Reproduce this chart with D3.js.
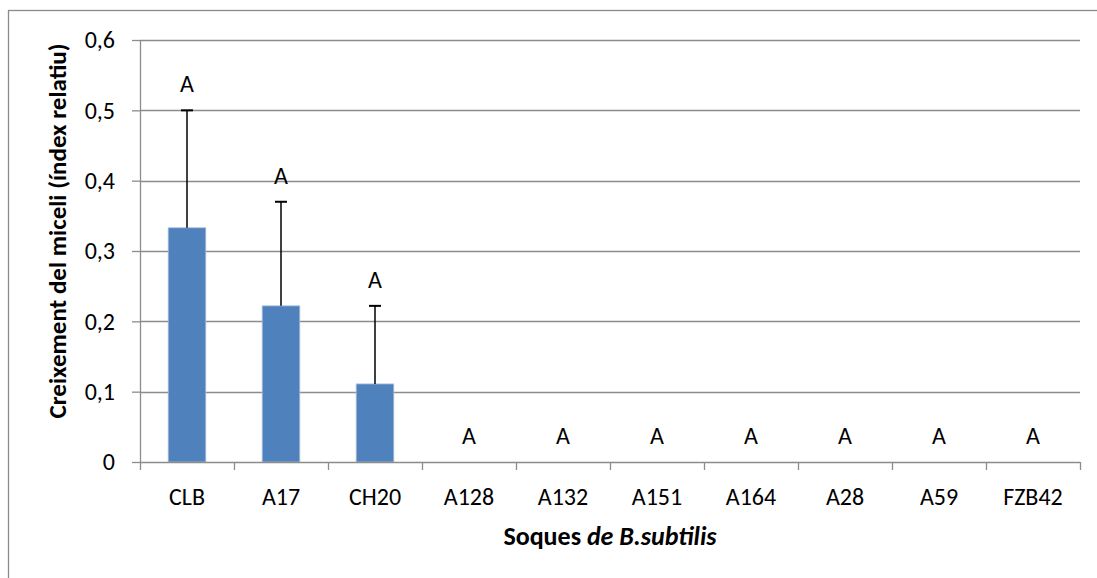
<!DOCTYPE html>
<html>
<head>
<meta charset="utf-8">
<script src="https://cdn.jsdelivr.net/npm/d3@7"></script>
<style>
  body { margin: 0; background: #fff; }
  text { font-family: Carlito, Calibri, Lato, sans-serif; fill: #000; }
</style>
</head>
<body>
<div id="chart-area"></div>
<script>
// Data
const strains = ["CLB", "A17", "CH20", "A128", "A132", "A151", "A164", "A28", "A59", "FZB42"];
const growth = [0.333, 0.222, 0.111, 0, 0, 0, 0, 0, 0, 0];
const errors = [0.167, 0.148, 0.111, 0, 0, 0, 0, 0, 0, 0];
const letters = ["A", "A", "A", "A", "A", "A", "A", "A", "A", "A"];
const yTicks = [0, 0.1, 0.2, 0.3, 0.4, 0.5, 0.6];

const W = 1097, H = 578;
const margin = { top: 40, right: 17, bottom: 116, left: 140 };
const width = W - margin.left - margin.right;
const height = H - margin.top - margin.bottom;
const fontSize = "24px";

const svg = d3.select("#chart-area").append("svg")
  .attr("width", W)
  .attr("height", H);

// outer chart border (cropped at right and bottom)
svg.append("rect")
  .attr("x", 8.5).attr("y", 10.5)
  .attr("width", W + 10).attr("height", H + 10)
  .attr("fill", "none")
  .attr("stroke", "#8a8a8a")
  .attr("stroke-width", 1.3);

const chart = svg.append("g")
  .attr("transform", `translate(${margin.left}, ${margin.top})`);

const x = d3.scaleBand().domain(strains).range([0, width]).padding(0);
const y = d3.scaleLinear().domain([0, 0.6]).range([height, 0]);

// gridlines
chart.append("g")
  .selectAll("line")
  .data(yTicks.filter(d => d > 0))
  .join("line")
  .attr("x1", 0).attr("x2", width)
  .attr("y1", d => Math.round(y(d)) + 0.5)
  .attr("y2", d => Math.round(y(d)) + 0.5)
  .attr("stroke", "#8c8c8c")
  .attr("stroke-width", 1.3);

// y axis
const yAxis = d3.axisLeft(y)
  .tickValues(yTicks)
  .tickSize(8)
  .tickPadding(17)
  .tickFormat(d => d === 0 ? "0" : d3.format(".1f")(d).replace(".", ","));

const yg = chart.append("g").call(yAxis);
yg.select(".domain").attr("stroke", "#8c8c8c").attr("stroke-width", 1.3)
  .attr("d", `M0.5,0V${height}`);
yg.selectAll(".tick line").attr("stroke", "#8c8c8c").attr("stroke-width", 1.3);
yg.selectAll(".tick text")
  .style("font-family", "Carlito, Calibri, Lato, sans-serif")
  .style("font-size", fontSize)
  .attr("fill", "#000");

// bars
const barW = x.bandwidth() / 2.5;
chart.append("g")
  .selectAll("rect")
  .data(strains)
  .join("rect")
  .attr("x", (d) => x(d) + (x.bandwidth() - barW) / 2)
  .attr("y", (d, i) => y(growth[i]))
  .attr("width", barW)
  .attr("height", (d, i) => height - y(growth[i]))
  .attr("fill", "#4f81bd")
  .attr("stroke", "#a9c0df")
  .attr("stroke-width", 0.8);

// x axis
const xAxis = d3.axisBottom(x).tickSize(0).tickPadding(26);
const xg = chart.append("g")
  .attr("transform", `translate(0, ${height})`)
  .call(xAxis);
xg.select(".domain").attr("stroke", "#8c8c8c").attr("stroke-width", 1.3)
  .attr("d", `M0,0.5H${width}`);
xg.selectAll(".tick text")
  .style("font-family", "Carlito, Calibri, Lato, sans-serif")
  .style("font-size", fontSize)
  .attr("fill", "#000");
// category separator ticks
xg.append("g")
  .selectAll("line")
  .data(d3.range(strains.length + 1))
  .join("line")
  .attr("x1", i => Math.round(i * x.step()) + 0.5)
  .attr("x2", i => Math.round(i * x.step()) + 0.5)
  .attr("y1", 0).attr("y2", 8)
  .attr("stroke", "#8c8c8c")
  .attr("stroke-width", 1.3);

// error bars (upper only)
const errs = chart.append("g")
  .selectAll("g")
  .data(strains.filter((d, i) => errors[i] > 0))
  .join("g");
errs.append("line")
  .attr("x1", d => x(d) + x.bandwidth() / 2)
  .attr("x2", d => x(d) + x.bandwidth() / 2)
  .attr("y1", d => y(growth[strains.indexOf(d)]))
  .attr("y2", d => y(growth[strains.indexOf(d)] + errors[strains.indexOf(d)]))
  .attr("stroke", "#000")
  .attr("stroke-width", 1.5);
errs.append("line")
  .attr("x1", d => x(d) + x.bandwidth() / 2 - 6)
  .attr("x2", d => x(d) + x.bandwidth() / 2 + 6)
  .attr("y1", d => y(growth[strains.indexOf(d)] + errors[strains.indexOf(d)]))
  .attr("y2", d => y(growth[strains.indexOf(d)] + errors[strains.indexOf(d)]))
  .attr("stroke", "#000")
  .attr("stroke-width", 2);

// significance letters
chart.append("g")
  .selectAll("text")
  .data(strains)
  .join("text")
  .attr("x", d => x(d) + x.bandwidth() / 2)
  .attr("y", (d, i) => y(growth[i] + errors[i]) - 18)
  .attr("text-anchor", "middle")
  .style("font-size", fontSize)
  .text((d, i) => letters[i]);

// axis titles
const xTitle = chart.append("text")
  .attr("x", width / 2)
  .attr("y", height + 83)
  .attr("text-anchor", "middle")
  .style("font-size", "26px")
  .style("font-weight", "bold");
xTitle.append("tspan").text("Soques ");
xTitle.append("tspan").style("font-style", "italic").text("de B.subtilis");

chart.append("text")
  .attr("transform", `translate(${-74}, ${height / 2 - 20}) rotate(-90)`)
  .attr("text-anchor", "middle")
  .style("font-size", "25px")
  .style("font-weight", "bold")
  .text("Creixement del miceli (índex relatiu)");
</script>
</body>
</html>
